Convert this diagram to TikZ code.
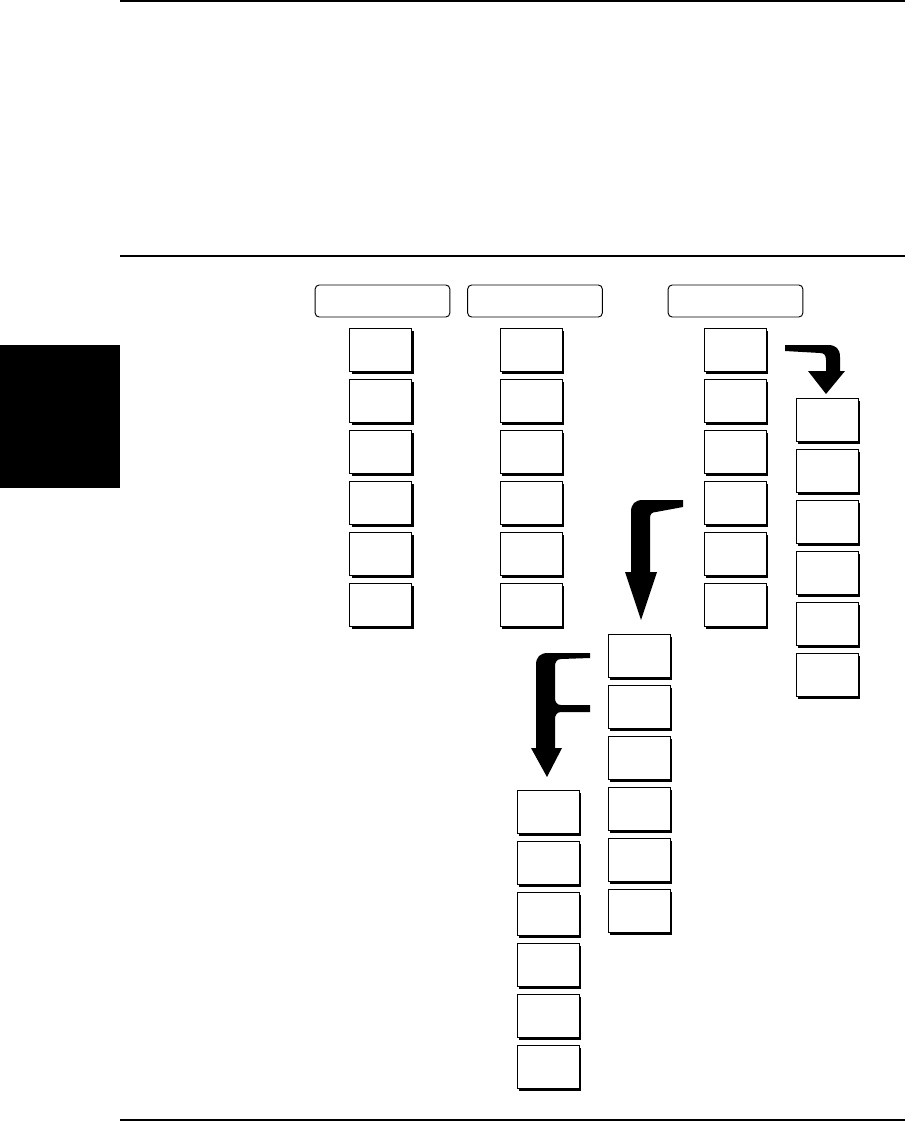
\documentclass[tikz,border=0pt]{standalone}
\usetikzlibrary{shadows}
\begin{document}
\begin{tikzpicture}[x=0.75pt,y=-0.75pt,
  keybox/.style={draw, fill=white, line width=0.75pt, minimum width=46.5pt, minimum height=32.5pt,
    inner sep=0pt, outer sep=0pt,
    general shadow={fill=black, shadow xshift=1.7pt, shadow yshift=-1.7pt}},
  headbox/.style={draw, fill=white, line width=0.7pt, rounded corners=3pt, minimum width=101pt,
    minimum height=24pt, inner sep=0pt},
  rule/.style={line width=1.1pt},
  bigarrow/.style={fill=black, draw=none}]
\useasboundingbox (0,0) rectangle (912,1121);
% rules
\draw[rule] (120,1) -- (905,1);
\draw[rule] (120,256) -- (905,256);
\draw[rule] (120,1120) -- (905,1120);
% black tab
\fill (0,345) rectangle (120,488);
% header buttons
\node[headbox] (h1) at (382.5,301) {};
\node[headbox] (h2) at (535,301) {};
\node[headbox] (h3) at (735.5,301) {};
% key columns
\foreach \i in {1,...,6}{
  \pgfmathsetmacro{\yy}{350+51*(\i-1)}
  \node[keybox] (a\i) at (380.5,\yy) {};
  \node[keybox] (b\i) at (531,\yy) {};
  \node[keybox] (c\i) at (735,\yy) {};
  \pgfmathsetmacro{\yd}{420+51*(\i-1)}
  \node[keybox] (d\i) at (827,\yd) {};
  \pgfmathsetmacro{\ye}{656+51*(\i-1)}
  \node[keybox] (e\i) at (639,\ye) {};
  \pgfmathsetmacro{\yf}{812+51*(\i-1)}
  \node[keybox] (f\i) at (548,\yf) {};
}
% arrow 1 (top right)
\fill[bigarrow] (785,345) -- (828,345) .. controls (836,345) and (840,349) .. (840,357)
  -- (840,371) -- (845,371) -- (826,394) -- (808,371) -- (826,371) -- (826,360)
  .. controls (826,355) and (824,353) .. (820,353) -- (785,351) -- cycle;
% arrow 2 (middle)
\fill[bigarrow] (683,500) -- (643,500) .. controls (635,500) and (631,504) .. (631,512)
  -- (631,572) -- (625,572) -- (641,620) -- (657,572) -- (650,572) -- (650,518)
  .. controls (650,514) and (652,512) .. (656,512) -- (683,507) -- cycle;
% arrow 3 (lower)
\fill[bigarrow] (590,653) -- (548,653) .. controls (540,653) and (536,657) .. (536,665)
  -- (536,748) -- (531,748) -- (547,777) -- (562,748) -- (555,748) -- (555,719)
  .. controls (555,715) and (557,712) .. (561,712) -- (590,712) -- (590,705) -- (561,705)
  .. controls (557,705) and (555,702) .. (555,698) -- (555,666)
  .. controls (555,662) and (557,659) .. (561,659) -- (590,658) -- cycle;
\end{tikzpicture}
\end{document}
